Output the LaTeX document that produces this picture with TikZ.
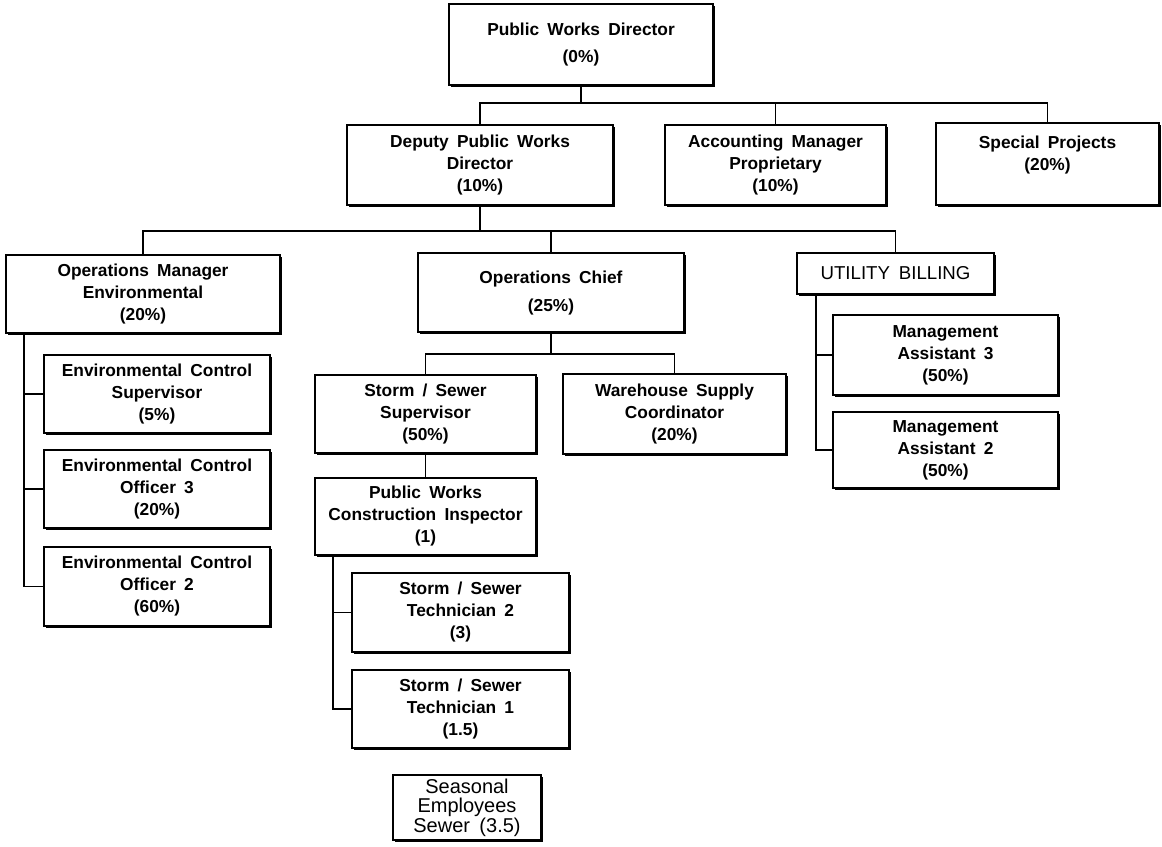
\documentclass[tikz,border=0pt]{standalone}
\usepackage{fontspec}
\setmainfont{Liberation Sans}[WordSpace=1.7]
\usetikzlibrary{shadows}
\begin{document}
\begin{tikzpicture}[x=0.75pt,y=-0.75pt,
  box/.style={draw,line width=0.9pt,fill=white,align=center,inner sep=2pt,
    font=\fontsize{13}{16.5}\selectfont\bfseries,
    drop shadow={shadow xshift=1.4pt,shadow yshift=-1.4pt,fill=black,opacity=1}},
  plainbox/.style={box,font=\fontsize{14}{15}\selectfont},
  sz/.style 2 args={minimum width={#1*0.75pt},minimum height={#2*0.75pt}},
  link/.style={line width=0.8pt}]
\useasboundingbox (0,0) rectangle (1162,846);

% top level
\node[box,sz={264}{81},font=\fontsize{13}{20}\selectfont\bfseries] (pwd) at (581,44.5) {Public Works Director\\(0\%)};
\node[box,sz={266}{80}] (dep) at (480,165) {Deputy Public Works\\Director\\(10\%)};
\node[box,sz={221}{80}] (acc) at (775.5,165) {Accounting Manager\\Proprietary\\(10\%)};
\node[box,sz={223}{82}] (spc) at (1047.5,164) {Special Projects\\(20\%)\\\mbox{}};

% divisions
\node[box,sz={274}{78}] (ome) at (143,294) {Operations Manager\\Environmental\\(20\%)};
\node[box,sz={266}{79},font=\fontsize{13}{21}\selectfont\bfseries] (opc) at (551,292.5) {\rule{0pt}{10pt}Operations Chief\\(25\%)};
\node[plainbox,sz={197}{41}] (ub) at (895.5,273.5) {UTILITY BILLING};

% environmental
\node[box,sz={226}{78}] (ecs) at (157,394) {Environmental Control\\Supervisor\\(5\%)};
\node[box,sz={226}{78}] (eco3) at (157,489) {Environmental Control\\Officer 3\\(20\%)};
\node[box,sz={226}{79}] (eco2) at (157,586.5) {Environmental Control\\Officer 2\\(60\%)};

% operations
\node[box,sz={221}{78}] (ssv) at (425.5,414) {Storm / Sewer\\Supervisor\\(50\%)};
\node[box,sz={223}{80}] (wsc) at (674.5,414) {Warehouse Supply\\Coordinator\\(20\%)};
\node[box,sz={221}{77}] (pwci) at (425.5,516.5) {Public Works\\Construction Inspector\\(1)};
\node[box,sz={217}{79}] (st2) at (460.5,612.5) {Storm / Sewer\\Technician 2\\(3)};
\node[box,sz={217}{78}] (st1) at (460.5,709) {Storm / Sewer\\Technician 1\\(1.5)};
\node[plainbox,sz={148}{65},font=\fontsize{15}{14.5}\selectfont] (sea) at (467,807.5) {Seasonal\\Employees\\Sewer (3.5)};

% utility billing
\node[box,sz={225}{80}] (ma3) at (945.5,355) {Management\\Assistant 3\\(50\%)};
\node[box,sz={225}{76}] (ma2) at (945.5,450) {Management\\Assistant 2\\(50\%)};

% bus lines and trunks
\coordinate (bus1) at (0,103);
\coordinate (bus2) at (0,231);
\coordinate (bus3) at (0,354);
\coordinate (trkE) at (24,0);
\coordinate (trkS) at (333,0);
\coordinate (trkU) at (816,0);

\begin{scope}[link]
\draw (pwd.south) -- (pwd.south |- bus1);
\draw (dep.north) -- (dep.north |- bus1) -- (spc.north |- bus1) -- (spc.north);
\draw (acc.north) -- (acc.north |- bus1);

\draw (dep.south) -- (dep.south |- bus2);
\draw (ome.north) -- (ome.north |- bus2) -- (ub.north |- bus2) -- (ub.north);
\draw (opc.north) -- (opc.north |- bus2);

\draw (opc.south) -- (opc.south |- bus3);
\draw (ssv.north) -- (ssv.north |- bus3) -- (wsc.north |- bus3) -- (wsc.north);
\draw (ssv.south) -- (pwci.north);

\draw (ome.south -| trkE) |- (eco2.west);
\draw (ecs.west) -- (ecs.west -| trkE);
\draw (eco3.west) -- (eco3.west -| trkE);

\draw (pwci.south -| trkS) |- (st1.west);
\draw (st2.west) -- (st2.west -| trkS);

\draw (ub.south -| trkU) |- (ma2.west);
\draw (ma3.west) -- (ma3.west -| trkU);
\end{scope}
\end{tikzpicture}
\end{document}
